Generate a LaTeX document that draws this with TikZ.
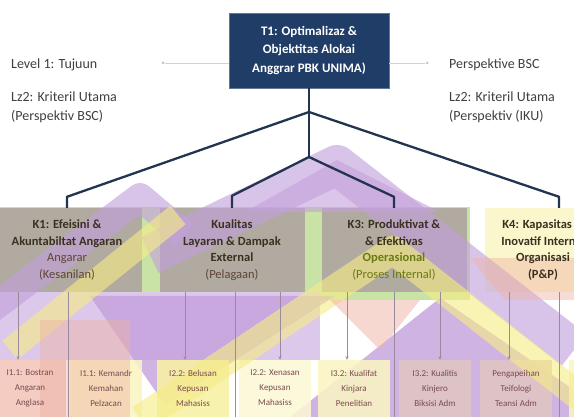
\documentclass[tikz,border=0pt]{standalone}
\usepackage{fontspec}
\setmainfont{Carlito}
\usetikzlibrary{arrows.meta,calc}
\definecolor{navy}{HTML}{1F3D66}
\definecolor{navyline}{HTML}{22344F}
\definecolor{lgreen}{HTML}{C9E2A6}
\definecolor{lav}{HTML}{C3A0DC}
\definecolor{lavl}{HTML}{DCC8EA}
\definecolor{yel}{HTML}{F6EC86}
\definecolor{pinkc}{HTML}{EFB3A3}
\definecolor{mauve}{HTML}{A8989F}
\definecolor{txtdark}{HTML}{3A3020}
\definecolor{txtbrown}{HTML}{5E4535}
\definecolor{txtolive}{HTML}{6B7A10}
\definecolor{txtl}{HTML}{7A4A50}
\definecolor{labgray}{HTML}{404040}
\definecolor{arrgray}{HTML}{9A8A9C}
\begin{document}
\begin{tikzpicture}[x=1pt,y=-1pt,
  t1box/.style={fill=navy, draw=navy!70!white, line width=0.8pt, minimum width=160pt, minimum height=75pt, inner sep=0pt},
  t1text/.style={text=white, font=\fontsize{13}{18.5}\selectfont\bfseries, align=center},
  l2box/.style={minimum width=#1, minimum height=84pt, inner sep=0pt, fill=mauve, fill opacity=.75},
  l2text/.style={font=\fontsize{12.5}{16.5}\selectfont, align=center, text=txtdark},
  l3box/.style={minimum width=72pt, minimum height=66pt, inner sep=0pt, fill=#1, fill opacity=.88},
  l3text/.style={font=\fontsize{9}{15}\selectfont, align=center, text=txtl},
  lab/.style={font=\fontsize{14}{16}\selectfont, text=labgray, anchor=west, inner sep=0pt},
  conn/.style={draw=navyline, line width=2.3pt, line join=round},
  band/.style={opacity=.62, line cap=butt, line join=round},
  arr/.style={draw=arrgray, line width=0.6pt, -{Stealth[length=3.5pt,width=3pt]}},
  thinln/.style={draw=arrgray, line width=0.6pt},
  dotc/.style={circle, fill=gray!45, inner sep=0pt, minimum size=3pt},
  leader/.style={draw=gray!35, line width=0.7pt}
]
\useasboundingbox (0,0) rectangle (574,417);
\clip (0,0) rectangle (574,417);
\fill[white] (0,0) rectangle (574,417);

% ---------- background colour fields ----------
\fill[lgreen] (0,207) rectangle (470,300);
\fill[lavl] (0,292) rectangle (320,360);
\fill[lav, opacity=.8] (290,417) -- (440,298) -- (574,390) -- (574,417) -- cycle;
\fill[lav, opacity=.8] (90,296) -- (335,296) -- (165,405) -- cycle;

% ---------- level 2 box fills ----------
\node[l2box=150pt] (k1) at (67,250) {};
\node[l2box=145pt] (k2) at (232,250) {};
\node[l2box=145pt] (k3) at (394,250) {};
\node[l2box=148pt, fill=yel!55] (k4) at (559,250) {};

% ---------- level 3 box fills ----------
\node[l3box=pinkc!75] (l3a) at (30,393) {};
\node[l3box=yel!50] (l3b) at (106,393) {};
\node[l3box=yel!75] (l3c) at (193,393) {};
\node[l3box=yel!35] (l3d) at (275,393) {};
\node[l3box=yel!50] (l3e) at (354,393) {};
\node[l3box=pinkc!55!mauve!65] (l3f) at (435,393) {};
\node[l3box=pinkc!55!mauve!65] (l3g) at (516,393) {};
\node[l3box=yel!50] (l3h) at (605,393) {};

% ---------- diagonal bands ----------
\fill[lav, opacity=.6] (245,212) -- (337,160) -- (440,212) -- cycle;
\draw[band, lav, line width=40pt] (150,255) -- (337,165) -- (574,350);
\draw[band, lav, line width=28pt] (-10,310) -- (140,197) -- (185,235);
\draw[band, yel, line width=24pt] (10,350) -- (178,215);
\draw[band, yel, line width=28pt] (140,419) -- (393,250) -- (590,405);
\fill[pinkc, opacity=.5] (330,300) -- (420,300) -- (380,350) -- cycle;
\fill[pinkc, opacity=.45] (40,320) -- (130,320) -- (130,417) -- (40,417) -- cycle;
\fill[pinkc, opacity=.45] (470,258) -- (574,258) -- (574,300) -- (505,300) -- cycle;

% ---------- top box ----------
\node[t1box] (t1) at (309,50.5) {};
\node[t1text] (t1t) at (t1.center) {T1: Optimalizaz \&\\Objektitas Alokai\\Anggrar PBK UNIMA)};

% ---------- side labels ----------
\node[lab] (lv1) at (11,65) {Level 1: Tujuun};
\node[lab] (lz2l) at (11,97) {Lz2: Kriteril Utama};
\node[lab] (pbl) at (11,117) {(Perspektiv BSC)};
\node[lab] (pbsc) at (449,65) {Perspektive BSC};
\node[lab] (lz2r) at (449,97) {Lz2: Kriteril Utama};
\node[lab] (piku) at (449,117) {(Perspektiv (IKU)};
\node[dotc] (dl) at (163,63) {};
\node[dotc] (dr) at (427,63) {};
\draw[leader] (dl) -- (dl -| t1.west);
\draw[leader] (dr -| t1.east) -- (dr);

% ---------- tree connectors ----------
\coordinate (j1) at (309,112);
\coordinate (j2) at (309,157);
\draw[conn] (t1.south) -- (j2);
\draw[conn] (j1) -- ([yshift=11pt]k1.north) -- (k1.north);
\draw[conn] (j1) -- ([yshift=11pt]k4.north) -- (k4.north);
\draw[conn] (j2) -- ([yshift=12pt]k2.north) -- (k2.north);
\draw[conn] (j2) -- ([yshift=11pt]k3.north) -- (k3.north);

% ---------- level 2 texts ----------
\node[l2text] (k1t) at (k1.center) {\textbf{K1: Efeisini \&}\\\textbf{Akuntabiltat Angaran}\\\textcolor{txtbrown}{Angarar}\\\textcolor{txtbrown}{(Kesanilan)}};
\node[l2text] (k2t) at (k2.center) {\textbf{Kualitas}\\\textbf{Layaran \& Dampak}\\\textbf{External}\\\textcolor{txtbrown}{(Pelagaan)}};
\node[l2text] (k3t) at (k3.center) {\textbf{K3: Produktivat \&}\\\textbf{\& Efektivas}\\\textcolor{txtolive}{\textbf{Operasional}}\\\textcolor{txtolive}{(Proses Internal)}};
\node[l2text] (k4t) at (543,250) {\textbf{K4: Kapasitas \&}\\\textbf{Inovatif Internal}\\\textbf{Organisasi}\\\textbf{(P\&P)}};

% ---------- level 2 to level 3 connectors ----------
\draw[arr] ([xshift=-12pt]l3a.north |- k1.south) -- ([xshift=-12pt]l3a.north);
\draw[arr] ([xshift=-8pt]l3c.north |- k2.south) -- ([xshift=-8pt]l3c.north);
\draw[arr] ([xshift=5pt]l3d.north |- k2.south) -- ([xshift=5pt]l3d.north);
\draw[arr] ([xshift=-7pt]l3e.north |- k3.south) -- ([xshift=-7pt]l3e.north);
\draw[arr] ([xshift=5pt]l3f.north |- k3.south) -- ([xshift=5pt]l3f.north);
\draw[arr] ([xshift=-7pt]l3g.north |- k4.south) -- ([xshift=-7pt]l3g.north);
\coordinate (e1) at (68,417);
\coordinate (e2) at (235,417);
\coordinate (e3) at (394,417);
\coordinate (e4) at (559,417);
\draw[thinln] (e1 |- k1.south) -- (e1);
\draw[thinln] (e2 |- k2.south) -- (e2);
\draw[thinln] (e3 |- k3.south) -- (e3);
\draw[thinln] (e4 |- k4.south) -- (e4);

% ---------- level 3 texts ----------
\node[l3text] (l3at) at (30,388) {I1.1: Bostran\\Angaran\\Anglasa};
\node[l3text] (l3bt) at (106,388) {I1.1: Kemandr\\Kemahan\\Pelzacan};
\node[l3text] (l3ct) at (193,388) {I2.2: Belusan\\Kepusan\\Mahasiss};
\node[l3text] (l3dt) at (275,388) {I2.2: Xenasan\\Kepusan\\Mahasiss};
\node[l3text] (l3et) at (354,388) {I3.2: Kualifat\\Kinjara\\Penelitian};
\node[l3text] (l3ft) at (435,388) {I3.2: Kualitis\\Kinjero\\Biksisi Adm};
\node[l3text] (l3gt) at (516,388) {Pengapeihan\\Teifologi\\Teansi Adm};
\node[l3text] (l3ht) at (605,388) {I4.1: Kapasitas\\Inovasi\\Internal};
\end{tikzpicture}
\end{document}
